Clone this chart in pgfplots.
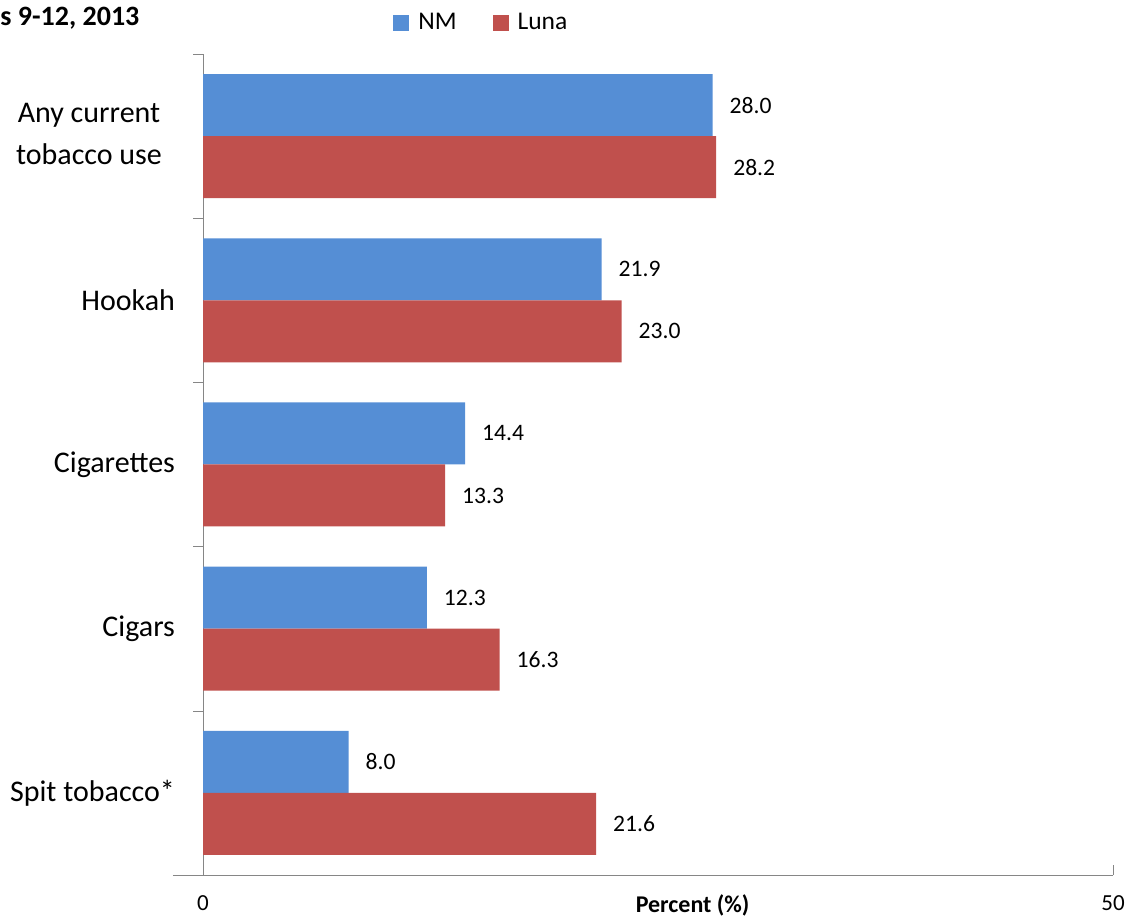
\documentclass[border=0pt]{standalone}
\usepackage{pgfplots}
\pgfplotsset{compat=1.18}
\usepackage{fontspec}
\setmainfont{Carlito}
\definecolor{nmblue}{RGB}{85,142,213}
\definecolor{lunared}{RGB}{192,80,77}
\definecolor{axgray}{RGB}{134,134,134}
\begin{document}
\begin{tikzpicture}
\useasboundingbox (0,0) rectangle (566.5pt,459.5pt);
\node[anchor=west,font=\fontsize{14}{16}\selectfont\bfseries,inner sep=0pt] at (0pt,450.5pt) {s 9-12, 2013};
\begin{axis}[
  at={(101.5pt,22pt)}, anchor=south west,
  scale only axis, width=455pt, height=410.5pt,
  xbar, bar width=31pt,
  xmin=0, xmax=50, ymin=-0.5, ymax=4.5,
  axis x line*=bottom, axis y line*=left,
  axis line style={axgray,-},
  xtick={0,50},
  ytick={0,...,4},
  yticklabels={Spit tobacco*,Cigars,Cigarettes,Hookah,
    {\begin{tabular}{@{}c@{\hspace{6.5pt}}}Any current\\[3pt]tobacco use\end{tabular}}},
  minor ytick={-0.5,0.5,...,4.5},
  major tick length=0pt, minor tick length=5pt, tick align=outside,
  minor tick style={axgray},
  yticklabel style={font=\fontsize{15}{18}\selectfont,xshift=-10.5pt},
  xticklabel style={font=\fontsize{11.5}{13}\selectfont,yshift=-7pt},
  /pgf/number format/assume math mode=true,
  xlabel={\textbf{Percent (\%)}},
  xlabel style={at={(axis description cs:0.538,-0.0365)},anchor=center,font=\fontsize{12}{14}\selectfont},
  nodes near coords={\pgfmathprintnumber[fixed,fixed zerofill,precision=1]{\pgfplotspointmeta}},
  nodes near coords style={anchor=west,font=\fontsize{11.8}{14}\selectfont,xshift=5pt},
  legend columns=2,
  legend style={at={(0.307,1.038)},anchor=center,draw=none,fill=none,
    font=\fontsize{12.75}{15}\selectfont,
    /tikz/every odd column/.append style={column sep=2.5pt},
    /tikz/every even column/.append style={column sep=16pt}},
  legend image code/.code={\fill[#1] (0pt,-4pt) rectangle (8pt,4pt);},
  clip=false,
]
\addplot[fill=nmblue,draw=none,bar shift=15.5pt] coordinates {(8.0,0) (12.3,1) (14.4,2) (21.9,3) (28.0,4)};
\addplot[fill=lunared,draw=none,bar shift=-15.5pt] coordinates {(21.6,0) (16.3,1) (13.3,2) (23.0,3) (28.2,4)};
\legend{NM,Luna}
\draw[axgray] (axis cs:-1.65,-0.5) -- (axis cs:0,-0.5);
\draw[axgray] (axis cs:50,-0.5) -- ++(0pt,5pt);
\end{axis}
\end{tikzpicture}
\end{document}
